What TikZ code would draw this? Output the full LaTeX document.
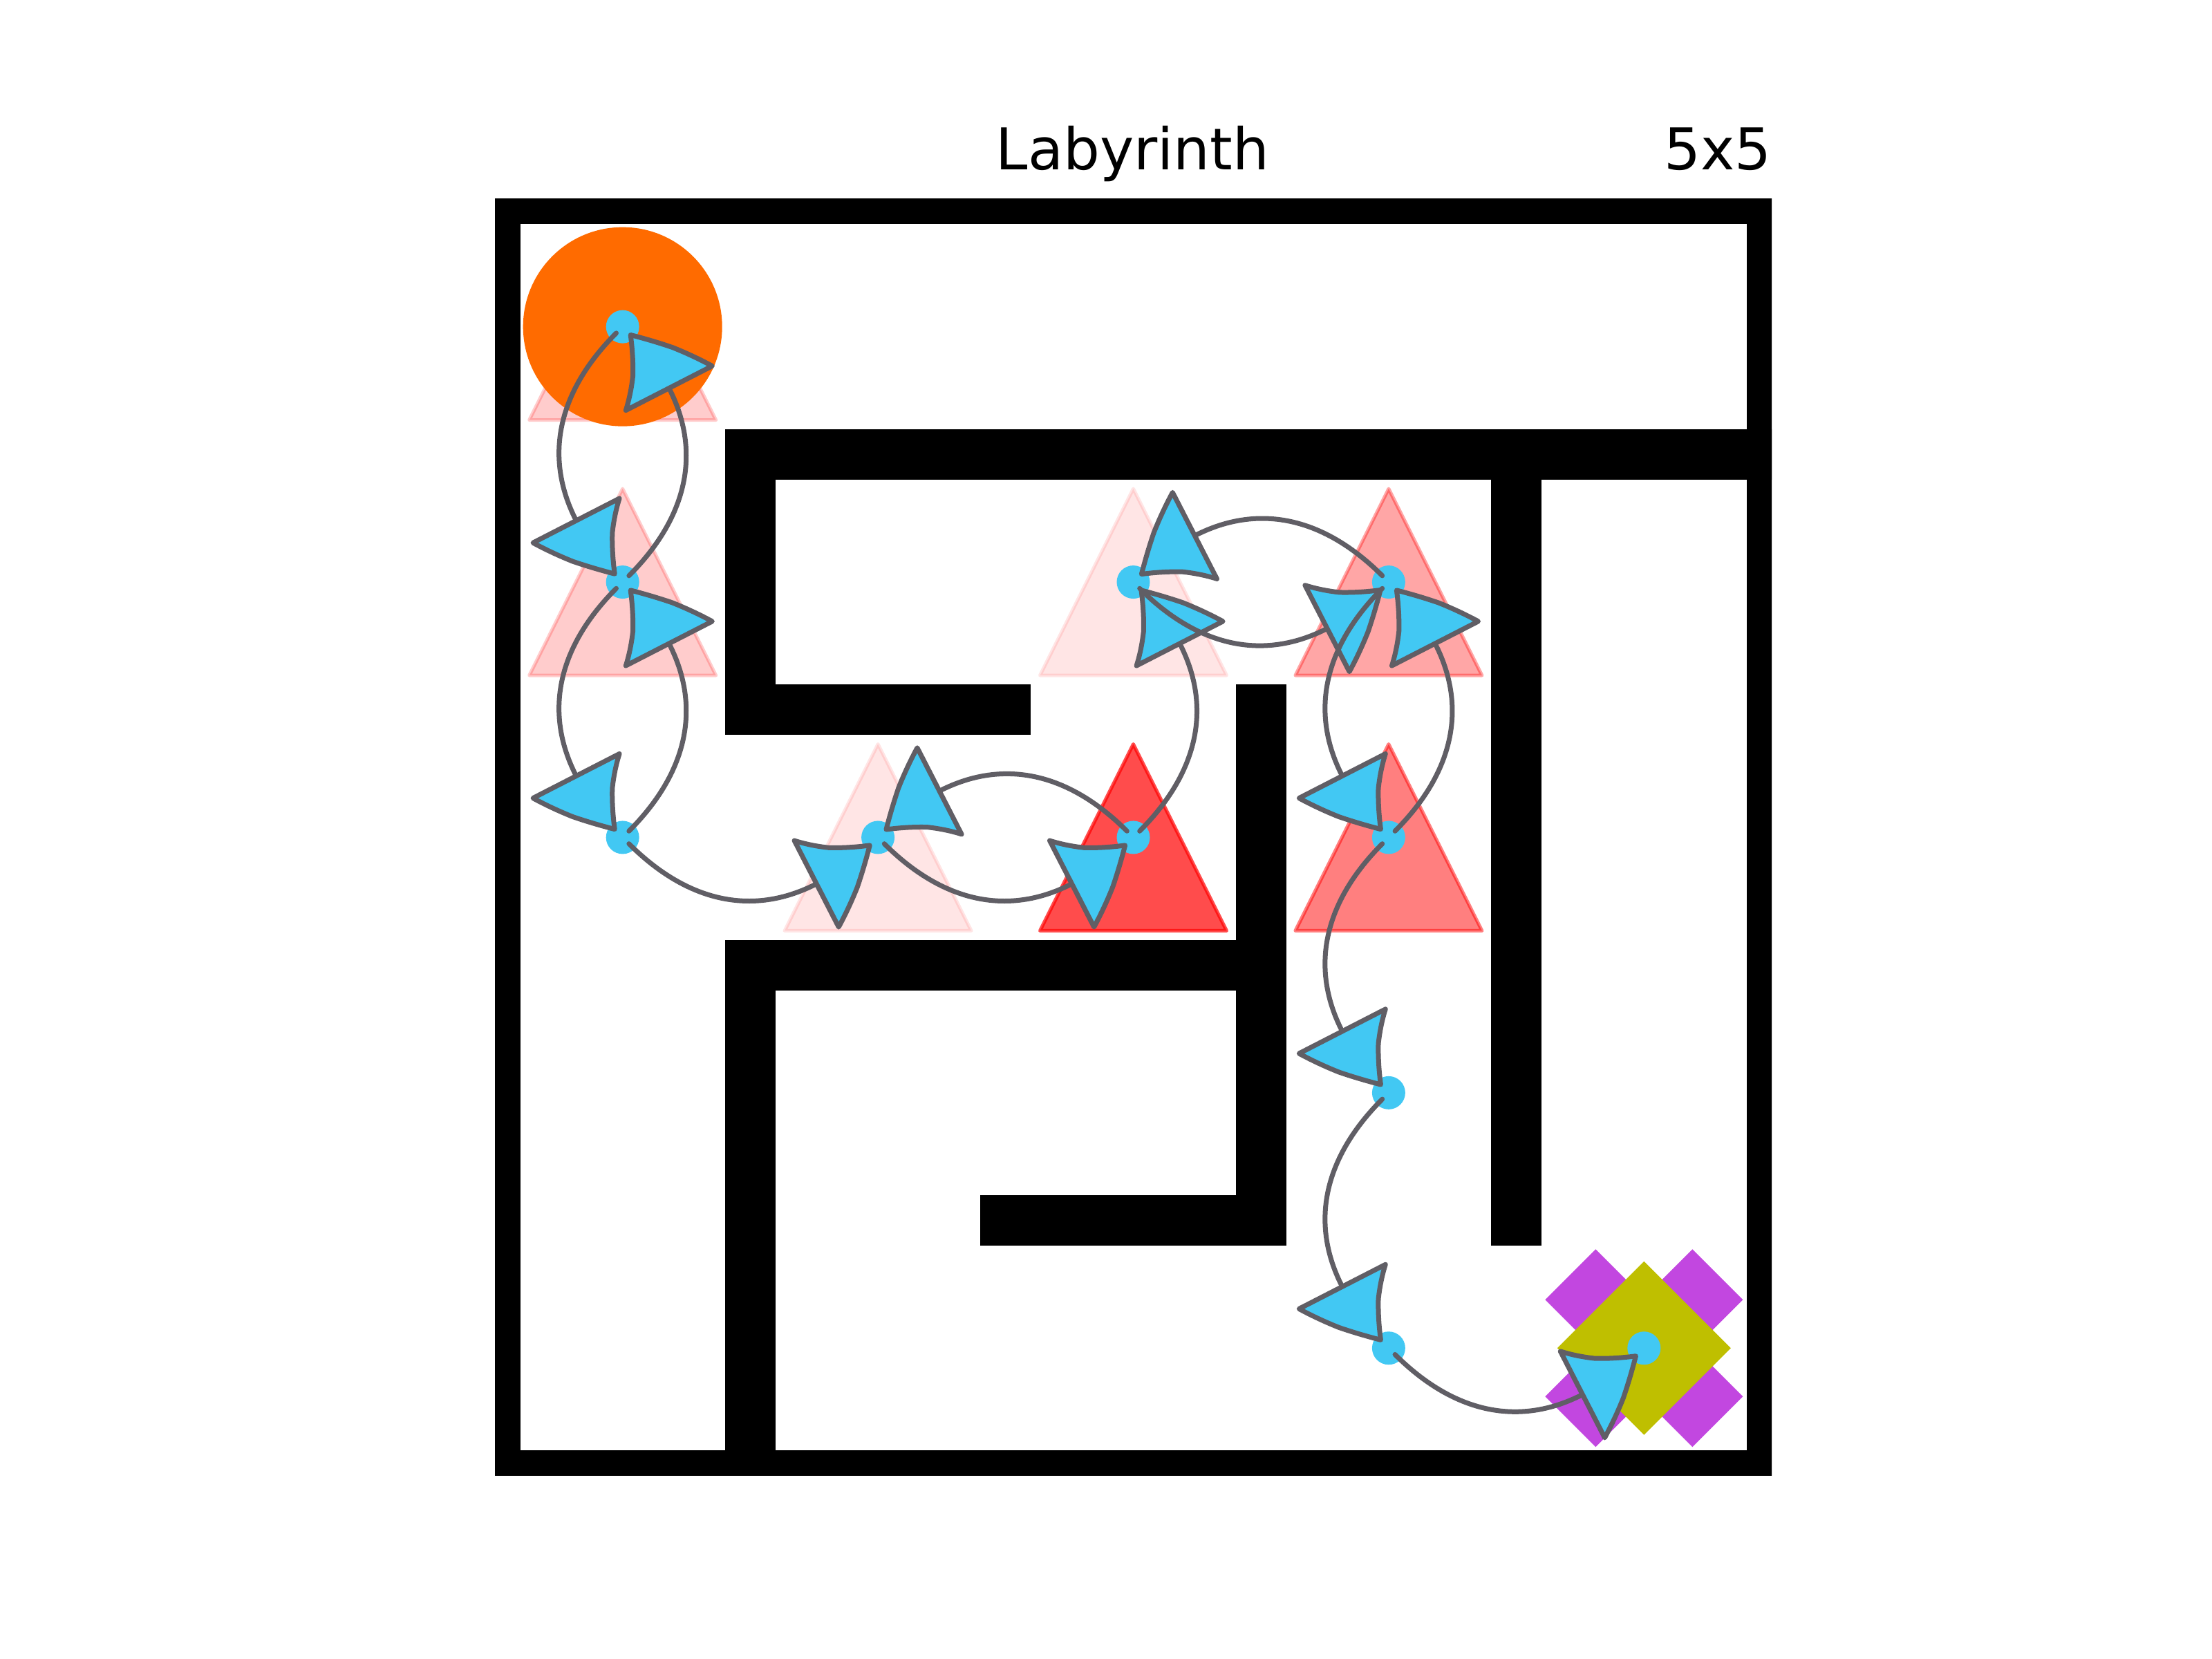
\documentclass[tikz,border=0pt]{standalone}
\usepackage{fontspec}
\setmainfont{DejaVu Sans}
\usetikzlibrary{arrows.meta,bending}
\definecolor{nodeblue}{RGB}{66,200,243}
\definecolor{edgegray}{RGB}{96,94,101}
\definecolor{startorange}{RGB}{255,107,0}
\definecolor{goalpurple}{RGB}{194,71,224}
\definecolor{goalolive}{RGB}{191,191,0}
\tikzset{
  wall/.style={line width=0.73cm, line cap=rect, line join=miter, black},
  visit/.style={fill=red, draw=red, line width=0.05cm, line join=round, opacity=#1},
  dot/.style={circle, fill=nodeblue, minimum size=0.48cm, inner sep=0pt, outer sep=0pt},
  move/.style={edgegray, line width=0.07cm, line cap=round, bend right=45, looseness=1.2,
    shorten <=0.13cm, shorten >=0.13cm,
    -{Triangle[length=1.15cm, width=1.52cm, fill=nodeblue, round, bend]}},
  label/.style={inner sep=0pt, font=\fontsize{23.7}{28}\selectfont},
}
\newcommand{\visitmark}[2]{\path[visit=#2] (#1) ++(0,1.35cm) -- ++(-1.35cm,-2.7cm) -- ++(2.7cm,0) -- cycle;}
\newcommand{\goaldiamond}[3]{\path[fill=#3, line join=round] (#1) ++(0,#2) -- ++(#2,-#2) -- ++(-#2,-#2) -- ++(-#2,#2) -- cycle;}
\begin{document}
\begin{tikzpicture}
\useasboundingbox (0,0) rectangle (32cm,24cm);
\node[label, anchor=base] (title) at (16.385cm,21.54cm) {Labyrinth};
\node[label, anchor=base east] (size) at (25.63cm,21.54cm) {5x5};
\begin{scope}[shift={(7.16cm,2.65cm)}, x=3.694cm, y=3.694cm]
  % walls
  \begin{scope}
    \clip (0,0) rectangle (5,5);
    \draw[wall] (0,0) rectangle (5,5);
    \draw[wall] (5,4) -- (1,4) -- (1,3) -- (2,3);
    \draw[wall] (3,3) -- (3,1);
    \draw[wall] (1,0) -- (1,2) -- (3,2);
    \draw[wall] (2,1) -- (3,1);
    \draw[wall] (4,4) -- (4,1);
  \end{scope}
  % visit markers
  \visitmark{0.5,4.5}{0.2}
  \visitmark{0.5,3.5}{0.2}
  \visitmark{1.5,2.5}{0.1}
  \visitmark{2.5,3.5}{0.1}
  \visitmark{2.5,2.5}{0.7}
  \visitmark{3.5,3.5}{0.35}
  \visitmark{3.5,2.5}{0.5}
  % start
  \fill[startorange] (0.5,4.5) circle[radius=1.44cm];
  % goal
  \path (4.5,0.5) ++(-0.70cm,0.70cm) coordinate (g1);
  \path (4.5,0.5) ++(0.70cm,0.70cm) coordinate (g2);
  \path (4.5,0.5) ++(-0.70cm,-0.70cm) coordinate (g3);
  \path (4.5,0.5) ++(0.70cm,-0.70cm) coordinate (g4);
  \goaldiamond{g1}{0.73cm}{goalpurple}
  \goaldiamond{g2}{0.73cm}{goalpurple}
  \goaldiamond{g3}{0.73cm}{goalpurple}
  \goaldiamond{g4}{0.73cm}{goalpurple}
  \goaldiamond{4.5,0.5}{1.255cm}{goalolive}
  % nodes
  \node[dot] (n00) at (0.5,4.5) {};
  \node[dot] (n01) at (0.5,3.5) {};
  \node[dot] (n02) at (0.5,2.5) {};
  \node[dot] (n12) at (1.5,2.5) {};
  \node[dot] (n22) at (2.5,2.5) {};
  \node[dot] (n21) at (2.5,3.5) {};
  \node[dot] (n31) at (3.5,3.5) {};
  \node[dot] (n32) at (3.5,2.5) {};
  \node[dot] (n33) at (3.5,1.5) {};
  \node[dot] (n34) at (3.5,0.5) {};
  \node[dot] (n44) at (4.5,0.5) {};
  % moves
  \draw[move] (n00.center) to (n01.center);
  \draw[move] (n01.center) to (n00.center);
  \draw[move] (n01.center) to (n02.center);
  \draw[move] (n02.center) to (n01.center);
  \draw[move] (n02.center) to (n12.center);
  \draw[move] (n12.center) to (n22.center);
  \draw[move] (n22.center) to (n12.center);
  \draw[move] (n22.center) to (n21.center);
  \draw[move] (n21.center) to (n31.center);
  \draw[move] (n31.center) to (n21.center);
  \draw[move] (n31.center) to (n32.center);
  \draw[move] (n32.center) to (n31.center);
  \draw[move] (n32.center) to (n33.center);
  \draw[move] (n33.center) to (n34.center);
  \draw[move] (n34.center) to (n44.center);
\end{scope}
\end{tikzpicture}
\end{document}
